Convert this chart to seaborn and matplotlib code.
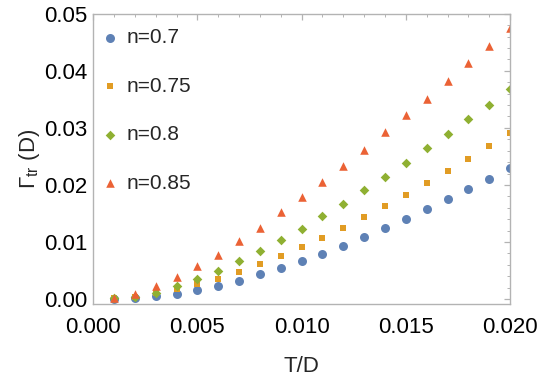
import numpy as np
import matplotlib
matplotlib.use('Agg')
import matplotlib.pyplot as plt
import pandas as pd
import seaborn as sns
from matplotlib.ticker import MultipleLocator

# T/D grid
t_over_d = [0.001, 0.002, 0.003, 0.004, 0.005, 0.006, 0.007, 0.008, 0.009, 0.010,
            0.011, 0.012, 0.013, 0.014, 0.015, 0.016, 0.017, 0.018, 0.019, 0.020]

# Gamma_tr(D) for each filling n
gamma_n070 = [0.0000, 0.0001, 0.0006, 0.0009, 0.0016, 0.0023, 0.0032, 0.0043, 0.0054, 0.0066,
              0.0079, 0.0093, 0.0108, 0.0124, 0.0140, 0.0158, 0.0175, 0.0193, 0.0211, 0.0229]
gamma_n075 = [0.0001, 0.0004, 0.0010, 0.0018, 0.0026, 0.0035, 0.0047, 0.0061, 0.0076, 0.0091,
              0.0107, 0.0124, 0.0144, 0.0163, 0.0182, 0.0203, 0.0224, 0.0246, 0.0268, 0.0291]
gamma_n080 = [0.0002, 0.0004, 0.0011, 0.0023, 0.0035, 0.0049, 0.0067, 0.0084, 0.0104, 0.0122,
              0.0145, 0.0166, 0.0191, 0.0214, 0.0238, 0.0265, 0.0289, 0.0316, 0.0341, 0.0368]
gamma_n085 = [0.0001, 0.0009, 0.0022, 0.0038, 0.0057, 0.0077, 0.0101, 0.0125, 0.0152, 0.0178,
              0.0206, 0.0234, 0.0262, 0.0292, 0.0322, 0.0351, 0.0382, 0.0414, 0.0443, 0.0475]

labels = ['n=0.7', 'n=0.75', 'n=0.8', 'n=0.85']
colors = ['#5E81B5', '#E19C24', '#8FB032', '#EB6235']
markers = ['o', 's', 'D', '^']
sizes = [42, 18, 24, 38]

frames = []
for lab, vals in zip(labels, [gamma_n070, gamma_n075, gamma_n080, gamma_n085]):
    frames.append(pd.DataFrame({'T/D': t_over_d, 'gamma': vals, 'series': lab}))
df = pd.concat(frames, ignore_index=True)

sns.set_style('white')
plt.rcParams['font.family'] = ['Liberation Sans', 'DejaVu Sans']
plt.rcParams['mathtext.fontset'] = 'custom'
plt.rcParams['mathtext.rm'] = 'Liberation Sans'
plt.rcParams['mathtext.it'] = 'Liberation Sans'

fig = plt.figure(figsize=(5.42, 3.84), dpi=100)
ax = fig.add_axes([0.172, 0.208, 0.769, 0.756])

for lab, col, mk, sz in zip(labels, colors, markers, sizes):
    sub = df[df['series'] == lab]
    sns.scatterplot(data=sub, x='T/D', y='gamma', color=col, marker=mk, s=sz,
                    linewidth=0, ax=ax, label=lab)

ax.set_xlim(0, 0.020)
ax.set_ylim(-0.0009, 0.05)
ax.xaxis.set_major_locator(MultipleLocator(0.005))
ax.xaxis.set_minor_locator(MultipleLocator(0.001))
ax.yaxis.set_major_locator(MultipleLocator(0.01))
ax.yaxis.set_minor_locator(MultipleLocator(0.002))
ax.xaxis.set_major_formatter(plt.FuncFormatter(lambda v, p: f'{v:.3f}'))
ax.yaxis.set_major_formatter(plt.FuncFormatter(lambda v, p: f'{v:.2f}'))

for sp in ax.spines.values():
    sp.set_color('#b3b3b3')
    sp.set_linewidth(1.0)
ax.tick_params(which='both', direction='in', top=True, right=True, color='#b3b3b3',
               labelsize=16, labelcolor='black')
ax.tick_params(which='major', length=4, width=0.9)
ax.tick_params(axis='x', which='major', pad=9)
ax.tick_params(axis='y', which='major', pad=4)
ax.tick_params(which='minor', length=2, width=0.7)

ax.set_xlabel('T/D', fontsize=16, labelpad=13)
ax.set_ylabel(r'$\Gamma_{\mathrm{tr}}$ (D)', fontsize=16, labelpad=2)

leg = ax.get_legend()
handles = leg.legend_handles
texts = [t.get_text() for t in leg.texts]
ax.legend(handles, texts, loc='upper left', bbox_to_anchor=(0.0, 0.972), frameon=False,
          fontsize=15, labelspacing=1.42, handlelength=1.0, handletextpad=0.3,
          borderaxespad=0.0, borderpad=0.3)

fig.savefig('out.png', dpi=100)
